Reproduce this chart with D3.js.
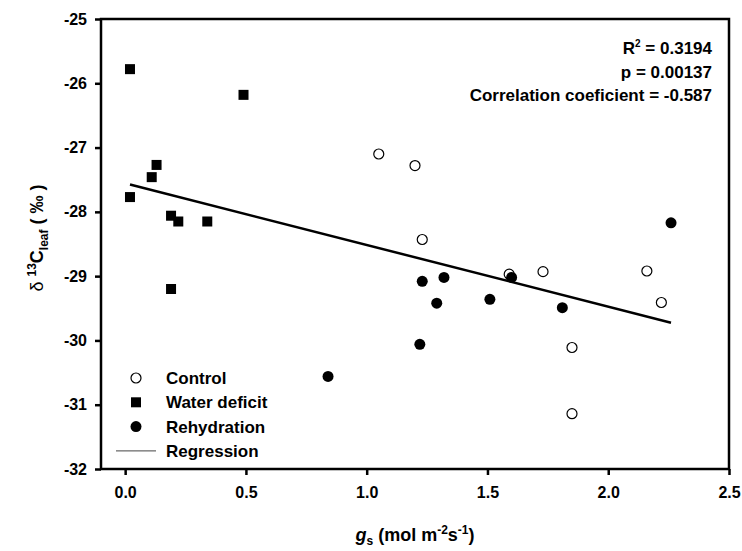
<!DOCTYPE html>
<html>
<head>
<meta charset="utf-8">
<script src="https://cdn.jsdelivr.net/npm/d3@7"></script>
<style>
  body { margin: 0; background: #fff; }
  text { font-family: "Liberation Sans", Arial, sans-serif; font-weight: bold; fill: #000; }
</style>
</head>
<body>
<div id="chart"></div>
<script>
// Data: [gs, d13C]
const control = [
  [1.05, -27.10], [1.20, -27.28], [1.23, -28.43], [1.59, -28.97], [1.73, -28.93],
  [2.16, -28.92], [2.22, -29.41], [1.85, -30.11], [1.85, -31.14]
];
const waterDeficit = [
  [0.02, -25.78], [0.49, -26.18], [0.13, -27.27], [0.11, -27.46], [0.02, -27.77],
  [0.19, -28.06], [0.22, -28.15], [0.34, -28.15], [0.19, -29.20]
];
const rehydration = [
  [1.23, -29.08], [1.32, -29.02], [1.29, -29.42], [1.51, -29.36], [1.60, -29.02],
  [1.81, -29.49], [2.26, -28.17], [1.22, -30.06], [0.84, -30.56]
];
// regression line as drawn
const regIntercept = -27.555;
const regSlope = -0.96;

const xTicks = [0.0, 0.5, 1.0, 1.5, 2.0, 2.5];
const yTicks = [-32, -31, -30, -29, -28, -27, -26, -25];
const statsText = ["R2 = 0.3194", "p = 0.00137", "Correlation coeficient = -0.587"];
const legendItems = ["Control", "Water deficit", "Rehydration", "Regression"];

const width = 742, height = 551;
const margin = { top: 19, right: 13, bottom: 82, left: 101 };

const svg = d3.select("#chart").append("svg")
  .attr("width", width)
  .attr("height", height);

const x = d3.scaleLinear().domain([-0.1, 2.5]).range([margin.left, width - margin.right]);
const y = d3.scaleLinear().domain([-32, -25]).range([height - margin.bottom, margin.top]);

// frame
svg.append("rect")
  .attr("x", margin.left).attr("y", margin.top)
  .attr("width", x.range()[1] - margin.left)
  .attr("height", y.range()[0] - margin.top)
  .attr("fill", "none").attr("stroke", "#000").attr("stroke-width", 2.5);

// axes (plain hyphen for minus, like the original)
const xAxis = svg.append("g")
  .attr("transform", `translate(0,${y.range()[0]})`)
  .call(d3.axisBottom(x).tickValues(xTicks).tickFormat(d => d.toFixed(1)).tickSize(6).tickPadding(12));
const yAxis = svg.append("g")
  .attr("transform", `translate(${margin.left},0)`)
  .call(d3.axisLeft(y).tickValues(yTicks).tickFormat(d => String(d)).tickSize(6).tickPadding(8));

[xAxis, yAxis].forEach(g => {
  g.select(".domain").remove();
  g.selectAll(".tick line").attr("stroke", "#000").attr("stroke-width", 2.5);
  g.selectAll(".tick text")
    .style("font-family", "'Liberation Sans', Arial, sans-serif")
    .style("font-weight", "bold")
    .style("font-size", "16px")
    .attr("fill", "#000");
});

// regression line
const allX = control.concat(waterDeficit, rehydration).map(d => d[0]);
const xr = d3.extent(allX);
svg.append("line")
  .attr("x1", x(xr[0])).attr("y1", y(regIntercept + regSlope * xr[0]))
  .attr("x2", x(xr[1])).attr("y2", y(regIntercept + regSlope * xr[1]))
  .attr("stroke", "#000").attr("stroke-width", 2.5);

// points
svg.append("g").selectAll("circle").data(control).enter().append("circle")
  .attr("cx", d => x(d[0])).attr("cy", d => y(d[1])).attr("r", 5)
  .attr("fill", "#fff").attr("stroke", "#000").attr("stroke-width", 1.2);

svg.append("g").selectAll("rect").data(waterDeficit).enter().append("rect")
  .attr("x", d => x(d[0]) - 5).attr("y", d => y(d[1]) - 5)
  .attr("width", 10).attr("height", 10).attr("fill", "#000");

svg.append("g").selectAll("circle").data(rehydration).enter().append("circle")
  .attr("cx", d => x(d[0])).attr("cy", d => y(d[1])).attr("r", 5.5)
  .attr("fill", "#000");

// stats text
const stats = svg.append("g").style("font-size", "17px");
stats.selectAll("text").data(statsText).enter().append("text")
  .attr("x", 712)
  .attr("y", (d, i) => 54 + i * 23.5)
  .attr("text-anchor", "end")
  .each(function(d, i) {
    const t = d3.select(this);
    if (i === 0) {
      t.append("tspan").text("R");
      t.append("tspan").attr("dy", -7).style("font-size", "10px").text("2");
      t.append("tspan").attr("dy", 7).text(" = 0.3194");
    } else {
      t.text(d);
    }
  });

// legend
const legend = svg.append("g").style("font-size", "17px");
const ly = i => 378 + i * 24.3;
legend.append("circle").attr("cx", 136).attr("cy", ly(0)).attr("r", 5)
  .attr("fill", "#fff").attr("stroke", "#000").attr("stroke-width", 1.2);
legend.append("rect").attr("x", 131).attr("y", ly(1) - 5).attr("width", 10).attr("height", 10).attr("fill", "#000");
legend.append("circle").attr("cx", 136).attr("cy", ly(2)).attr("r", 5.5).attr("fill", "#000");
legend.append("line").attr("x1", 116).attr("x2", 156).attr("y1", ly(3)).attr("y2", ly(3))
  .attr("stroke", "#444").attr("stroke-width", 1);
legend.selectAll("text").data(legendItems).enter().append("text")
  .attr("x", 166).attr("y", (d, i) => ly(i) + 6)
  .text(d => d);

// x axis title
const xt = svg.append("text")
  .attr("x", (x.range()[0] + x.range()[1]) / 2)
  .attr("y", 541)
  .attr("text-anchor", "middle")
  .style("font-size", "18px");
xt.append("tspan").style("font-style", "italic").text("g");
xt.append("tspan").attr("dy", 4).style("font-size", "12px").text("s");
xt.append("tspan").attr("dy", -4).text(" (mol m");
xt.append("tspan").attr("dy", -7).style("font-size", "12px").text("-2");
xt.append("tspan").attr("dy", 7).text("s");
xt.append("tspan").attr("dy", -7).style("font-size", "12px").text("-1");
xt.append("tspan").attr("dy", 7).text(")");

// y axis title
const yt = svg.append("text")
  .attr("transform", `translate(43,${(y.range()[0] + y.range()[1]) / 2 - 6}) rotate(-90)`)
  .attr("text-anchor", "middle")
  .style("font-size", "18px");
yt.append("tspan").style("font-weight", "normal").text("\u03b4 ");
yt.append("tspan").attr("dy", -7).style("font-size", "12px").text("13");
yt.append("tspan").attr("dy", 7).text("C");
yt.append("tspan").attr("dy", 5).style("font-size", "12px").text("leaf");
yt.append("tspan").attr("dy", -5).text(" ( \u2030 )");
</script>
</body>
</html>
